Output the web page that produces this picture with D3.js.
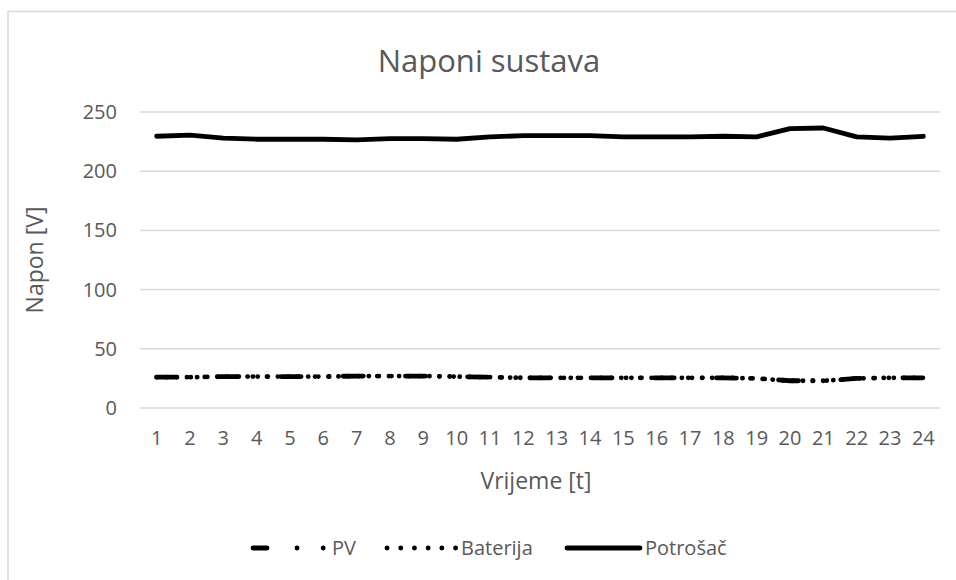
<!DOCTYPE html>
<html>
<head>
<meta charset="utf-8">
<script src="https://cdn.jsdelivr.net/npm/d3@7"></script>
<style>
  body { margin: 0; background: #fff; }
  text { font-family: "Open Sans", Lato, sans-serif; fill: #595959; }
</style>
</head>
<body>
<div id="chart"></div>
<script>
// data
var hours = ["1","2","3","4","5","6","7","8","9","10","11","12","13","14","15","16","17","18","19","20","21","22","23","24"];
var pv = [26, 26, 26.5, 26.5, 26.5, 26.5, 27, 27, 27, 26.5, 26, 25.5, 25.5, 25.5, 25.5, 25.5, 25.5, 25.5, 25, 23, 23, 25, 25.5, 25.5];
var baterija = [26, 26, 26.5, 26.5, 26.5, 26.5, 27, 27, 27, 26.5, 26, 25.5, 25.5, 25.5, 25.5, 25.5, 25.5, 25.5, 25, 23, 23, 25, 25.5, 25.5];
var potrosac = [229.5, 230.5, 228, 227, 227, 227, 226.5, 227.5, 227.5, 227, 229, 230, 230, 230, 229, 229, 229, 229.5, 229, 236, 236.5, 229, 228, 229.5];
var yTicks = [0, 50, 100, 150, 200, 250];

var width = 956, height = 580;
var margin = { top: 112, right: 16, bottom: 172, left: 140 };

var svg = d3.select("#chart")
    .append("svg")
    .attr("width", width)
    .attr("height", height);

// chart frame (cut off at right and bottom)
svg.append("path")
    .attr("d", "M8," + height + "V11.5H" + width)
    .attr("fill", "none")
    .attr("stroke", "#d9d9d9")
    .attr("stroke-width", 1.5);

var x = d3.scaleBand()
    .domain(hours)
    .range([margin.left, width - margin.right]);

var y = d3.scaleLinear()
    .domain([0, 250])
    .range([height - margin.bottom, margin.top]);

function cx(i) { return x(hours[i]) + x.bandwidth() / 2; }

// gridlines
svg.append("g")
    .selectAll("line")
    .data(yTicks)
    .enter()
    .append("line")
    .attr("x1", margin.left)
    .attr("x2", width - margin.right)
    .attr("y1", function (d) { return y(d); })
    .attr("y2", function (d) { return y(d); })
    .attr("stroke", "#d9d9d9")
    .attr("stroke-width", 1.5);

// y tick labels
var yAxis = svg.append("g")
    .attr("transform", "translate(" + (margin.left - 23) + ",0)")
    .call(d3.axisLeft(y).tickValues(yTicks).tickSize(0).tickPadding(0));
yAxis.select(".domain").remove();
yAxis.selectAll("text")
    .style("font-size", "20px")
    .attr("fill", "#595959");

// x tick labels
var xAxis = svg.append("g")
    .attr("transform", "translate(0," + (height - margin.bottom + 22) + ")")
    .call(d3.axisBottom(x).tickSize(0).tickPadding(0));
xAxis.select(".domain").remove();
xAxis.selectAll("text")
    .style("font-size", "20px")
    .attr("fill", "#595959")
    .attr("dy", "0.75em");

var line = d3.line()
    .x(function (d, i) { return cx(i); })
    .y(function (d) { return y(d); });

var series = [
    { name: "PV", values: pv, dash: "20,14,0.1,14,0.1,14" },
    { name: "Baterija", values: baterija, dash: "0.1,10" },
    { name: "Potrošač", values: potrosac, dash: null }
];

svg.append("g")
    .selectAll("path")
    .data(series)
    .enter()
    .append("path")
    .attr("d", function (d) { return line(d.values); })
    .attr("fill", "none")
    .attr("stroke", "#000")
    .attr("stroke-width", 4.8)
    .attr("stroke-linecap", "round")
    .attr("stroke-linejoin", "round")
    .attr("stroke-dasharray", function (d) { return d.dash; });

// titles
svg.append("text")
    .attr("x", 489)
    .attr("y", 72)
    .attr("text-anchor", "middle")
    .style("font-size", "31px")
    .text("Naponi sustava");

svg.append("text")
    .attr("x", 536)
    .attr("y", 489)
    .attr("text-anchor", "middle")
    .style("font-size", "23px")
    .text("Vrijeme [t]");

svg.append("text")
    .attr("transform", "translate(43,260) rotate(-90)")
    .attr("text-anchor", "middle")
    .style("font-size", "23px")
    .text("Napon [V]");

// legend
var legendItems = [
    { name: "PV", x1: 253, x2: 327, dash: "14,30,0.1,26,0.1,30" },
    { name: "Baterija", x1: 387, x2: 456, dash: "0.1,13.6" },
    { name: "Potrošač", x1: 567, x2: 640, dash: null }
];

var legend = svg.append("g")
    .selectAll("g")
    .data(legendItems)
    .enter()
    .append("g");

legend.append("line")
    .attr("x1", function (d) { return d.x1; })
    .attr("x2", function (d) { return d.x2; })
    .attr("y1", 548)
    .attr("y2", 548)
    .attr("stroke", "#000")
    .attr("stroke-width", 4.8)
    .attr("stroke-linecap", "round")
    .attr("stroke-dasharray", function (d) { return d.dash; });

legend.append("text")
    .attr("x", function (d) { return d.x2 + 5; })
    .attr("y", 548)
    .attr("dy", "0.35em")
    .style("font-size", "20px")
    .text(function (d) { return d.name; });
</script>
</body>
</html>
